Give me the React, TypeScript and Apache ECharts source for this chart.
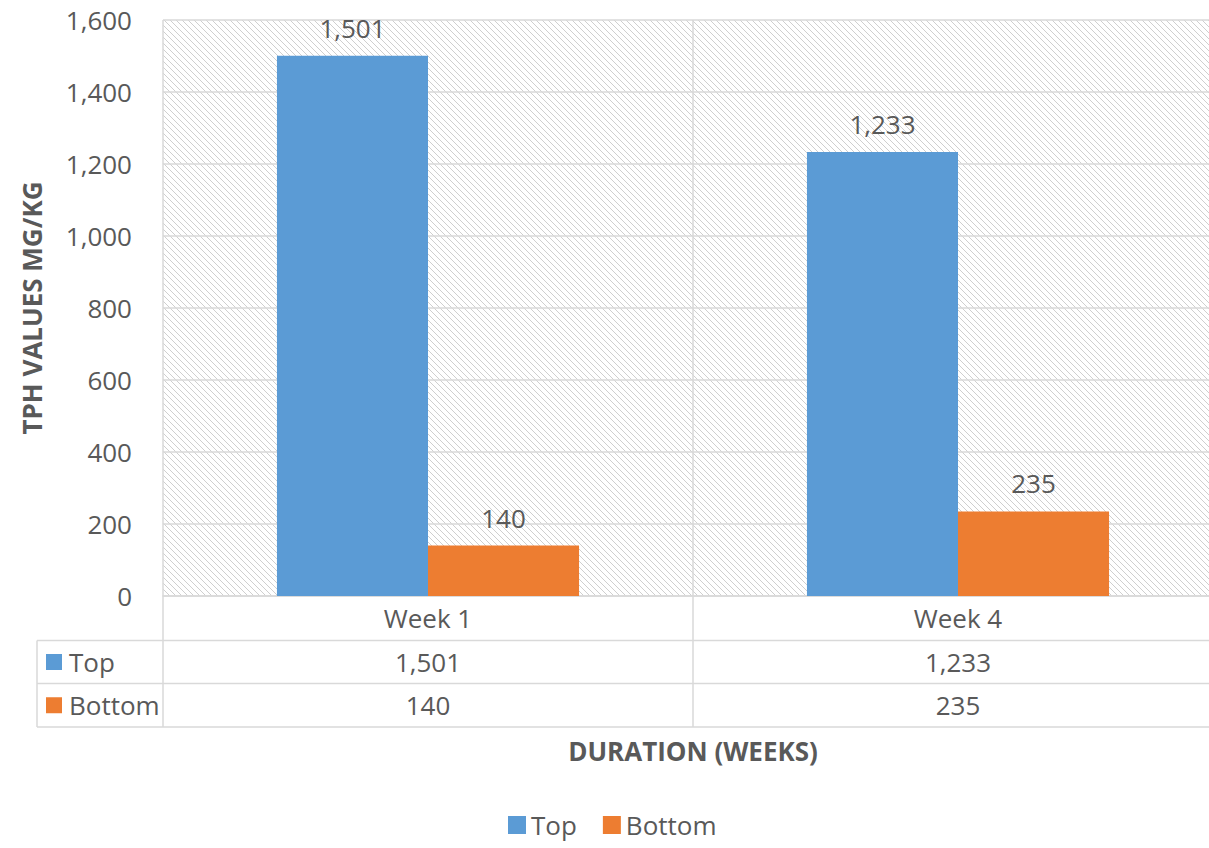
import React, { useEffect, useRef } from "react";
import * as echarts from "echarts";

const categories = ["Week 1", "Week 4"];
const seriesNames = ["Top", "Bottom"];
const topValues = [1501, 1233];
const bottomValues = [140, 235];
const yTicks = { min: 0, max: 1600, interval: 200 };
const colors = ["#5B9BD5", "#ED7D31"];

const FONT = "'Open Sans', 'Noto Sans', sans-serif";
const TXT = "#595959";
const LINE = "#d9d9d9";
const fmt = (v: number) => v.toLocaleString("en-US");

export default function App() {
  const ref = useRef<HTMLDivElement>(null);
  useEffect(() => {
    if (!ref.current) return;
    const chart = echarts.init(ref.current, undefined, { renderer: "svg" });

    const cv = document.createElement("canvas");
    cv.width = 6;
    cv.height = 6;
    const ctx = cv.getContext("2d")!;
    ctx.fillStyle = "#ffffff";
    ctx.fillRect(0, 0, 6, 6);
    ctx.fillStyle = "#cfcfcf";
    for (let i = 0; i < 6; i++) ctx.fillRect(i, i, 1, 1);

    const gridLeft = 163;
    const gridTop = 20;
    const gridBottomY = 596;
    const W = 1230;
    const H = 848;
    const gridRight = 7;
    const plotRight = W - gridRight;
    const rowLines = [640.5, 683.5, 727];
    const tableLeft = 37;

    const tableKeys: any[] = [];
    seriesNames.forEach((n, i) => {
      const cy = (rowLines[i] + rowLines[i + 1]) / 2;
      tableKeys.push({
        type: "rect",
        shape: { x: 46, y: cy - 8, width: 16, height: 16 },
        style: { fill: colors[i] },
      });
      tableKeys.push({
        type: "text",
        x: 69,
        y: cy,
        style: { text: n, fontSize: 26, fontFamily: FONT, fill: TXT, verticalAlign: "middle", align: "left" },
      });
    });
    const tableLines: any[] = rowLines.map((y) => ({
      type: "line",
      shape: { x1: tableLeft, y1: y, x2: plotRight, y2: y },
      style: { stroke: LINE, lineWidth: 1.5 },
    }));
    tableLines.push({
      type: "line",
      shape: { x1: tableLeft, y1: rowLines[0], x2: tableLeft, y2: rowLines[2] },
      style: { stroke: LINE, lineWidth: 1.5 },
    });

    const valueAxis = (vals: number[], offset: number) => ({
      type: "category",
      data: vals.map(fmt),
      position: "bottom",
      offset,
      axisLine: { show: false },
      axisTick: { show: false },
      splitLine: { show: false },
      axisLabel: { interval: 0, margin: 8, fontSize: 26, fontFamily: FONT, color: TXT, lineHeight: 28 },
    });

    chart.setOption({
      animation: false,
      backgroundColor: "#ffffff",
      textStyle: { fontFamily: FONT },
      grid: {
        left: gridLeft,
        top: gridTop,
        right: gridRight,
        bottom: H - gridBottomY,
        show: true,
        borderWidth: 0,
        backgroundColor: { image: cv, repeat: "repeat" } as any,
      },
      legend: {
        data: seriesNames,
        left: 508,
        top: 810,
        padding: 0,
        itemWidth: 18,
        itemHeight: 18,
        itemGap: 26,
        icon: "rect",
        textStyle: { fontSize: 26, fontFamily: FONT, color: TXT, lineHeight: 30 },
      },
      xAxis: [
        {
          type: "category",
          data: categories,
          name: "DURATION (WEEKS)",
          nameLocation: "middle",
          nameGap: 142,
          nameTextStyle: { fontSize: 26, fontWeight: "bold", fontFamily: FONT, color: TXT },
          axisLine: { show: true, lineStyle: { color: LINE, width: 1.5 } },
          axisTick: { show: true, length: 131, lineStyle: { color: LINE, width: 1.5 } },
          splitLine: { show: true, lineStyle: { color: LINE, width: 1.5 } },
          axisLabel: { interval: 0, margin: 8, fontSize: 26, fontFamily: FONT, color: TXT, lineHeight: 28 },
        },
        valueAxis(topValues, 44),
        valueAxis(bottomValues, 87),
      ],
      yAxis: {
        type: "value",
        min: yTicks.min,
        max: yTicks.max,
        interval: yTicks.interval,
        name: "TPH VALUES MG/KG",
        nameLocation: "middle",
        nameGap: 118,
        nameTextStyle: { fontSize: 26, fontWeight: "bold", fontFamily: FONT, color: TXT },
        axisLine: { show: false },
        axisTick: { show: false },
        splitLine: { show: true, lineStyle: { color: LINE, width: 1.5 } },
        axisLabel: { margin: 31, fontSize: 26, fontFamily: FONT, color: TXT, formatter: (v: number) => fmt(v) },
      },
      series: [
        { name: seriesNames[0], vals: topValues },
        { name: seriesNames[1], vals: bottomValues },
      ].map((s, i) => ({
        type: "bar",
        name: s.name,
        xAxisIndex: 0,
        data: s.vals,
        barGap: "0%",
        barCategoryGap: "43%",
        itemStyle: { color: colors[i] },
        z: 3,
        label: {
          show: true,
          position: "top",
          distance: 15,
          fontSize: 26,
          fontFamily: FONT,
          color: TXT,
          formatter: (p: any) => fmt(p.value),
        },
      })),
      graphic: [...tableLines, ...tableKeys],
    });
    return () => chart.dispose();
  }, []);
  return (
    <div style={{ position: "fixed", left: 0, top: 0, width: 1209, height: 848, overflow: "hidden", background: "#fff" }}>
      <div ref={ref} style={{ width: 1230, height: 848 }} />
    </div>
  );
}
